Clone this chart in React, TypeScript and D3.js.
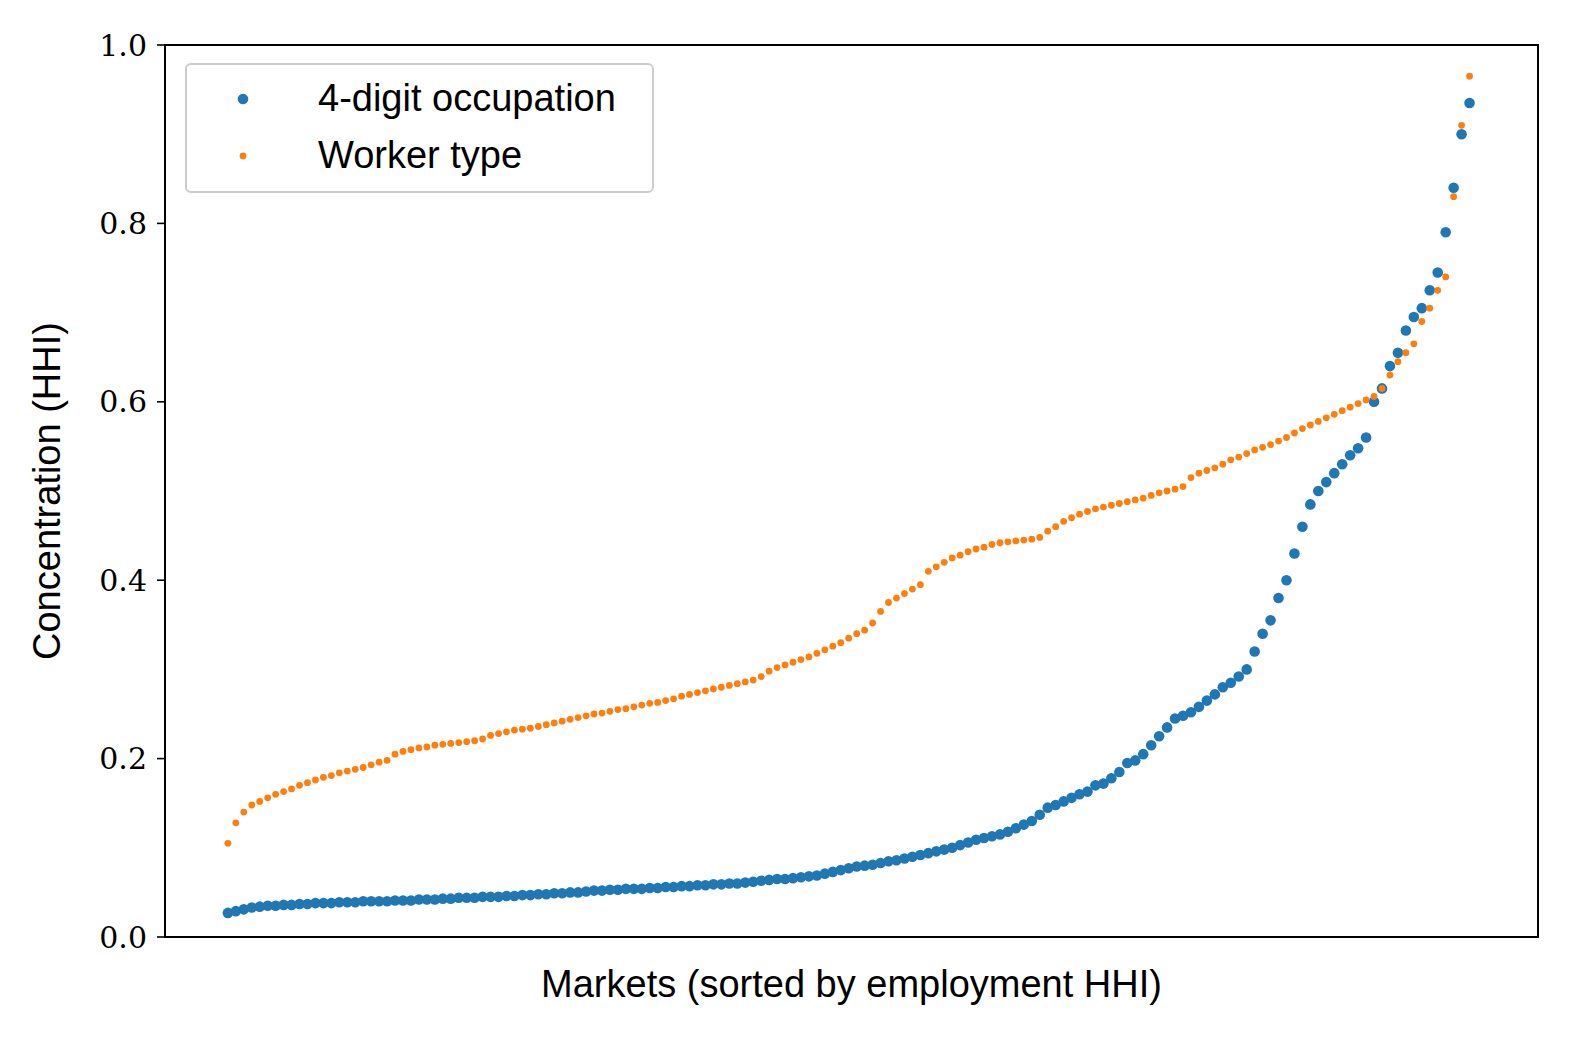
import React from "react"
import * as d3 from "d3"

const occupation = [
  .027,.029,.031,.033,.034,.035,.035,.036,.036,.037,
  .037,.038,.038,.038,.039,.039,.039,.040,.040,.040,
  .040,.041,.041,.041,.042,.042,.042,.043,.043,.044,
  .044,.044,.045,.045,.045,.046,.046,.047,.047,.048,
  .048,.049,.049,.050,.050,.051,.052,.052,.053,.053,
  .054,.054,.054,.055,.055,.056,.056,.057,.057,.058,
  .058,.059,.059,.060,.060,.061,.062,.063,.064,.065,
  .065,.066,.067,.068,.069,.071,.073,.075,.077,.079,
  .080,.081,.083,.085,.086,.088,.090,.092,.094,.096,
  .098,.100,.103,.106,.109,.111,.113,.115,.118,.122,
  .126,.130,.137,.145,.148,.152,.156,.160,.163,.170,
  .172,.178,.185,.195,.198,.205,.215,.225,.235,.245,
  .248,.252,.258,.265,.272,.280,.285,.292,.300,.320,
  .340,.355,.380,.400,.430,.460,.485,.500,.510,.520,
  .530,.540,.548,.560,.600,.615,.640,.655,.680,.695,
  .705,.725,.745,.790,.840,.900,.935,
]

const workerType = [
  .105,.128,.140,.148,.152,.156,.160,.163,.166,.170,
  .173,.176,.179,.181,.184,.186,.188,.190,.193,.196,
  .198,.205,.208,.210,.212,.213,.215,.216,.217,.218,
  .219,.220,.222,.226,.228,.230,.232,.233,.234,.236,
  .238,.240,.242,.244,.246,.248,.250,.251,.253,.255,
  .256,.258,.260,.262,.263,.265,.267,.270,.272,.274,
  .276,.278,.280,.282,.284,.286,.288,.292,.298,.302,
  .305,.308,.311,.314,.318,.322,.326,.330,.335,.340,
  .344,.352,.365,.375,.380,.385,.390,.395,.410,.415,
  .420,.425,.428,.432,.435,.437,.440,.442,.443,.444,
  .445,.446,.448,.455,.460,.466,.470,.474,.477,.480,
  .482,.484,.486,.488,.490,.492,.495,.498,.500,.502,
  .505,.515,.520,.523,.526,.530,.535,.538,.542,.546,
  .549,.552,.556,.560,.565,.570,.574,.578,.582,.586,
  .590,.594,.598,.602,.606,.615,.630,.645,.655,.665,
  .690,.705,.725,.740,.830,.910,.965,
]

const yTicks = [0, 0.2, 0.4, 0.6, 0.8, 1.0]
const legendLabels = ["4-digit occupation", "Worker type"]

const W = 1593, H = 1051
const margin = { left: 165, right: 55, top: 45, bottom: 114 }
const blue = "#1f77b4", orange = "#ff7f0e"
const serif = "'DejaVu Serif', 'Liberation Serif', serif"
const sans = "'Liberation Sans', Arial, sans-serif"

export default function App() {
  const x = d3.scaleLinear().domain([-7.9, occupation.length + 7.6]).range([margin.left, W - margin.right])
  const y = d3.scaleLinear().domain([0, 1]).range([H - margin.bottom, margin.top])
  const x0 = margin.left, x1 = W - margin.right, y0 = y(0), y1 = y(1)

  return (
    <svg width={W} height={H} style={{ position: "absolute", left: 0, top: 0, background: "#fff" }}>
      {occupation.map((v, i) => <circle key={"b" + i} cx={x(i)} cy={y(v)} r={5.3} fill={blue} />)}
      {workerType.map((v, i) => <circle key={"o" + i} cx={x(i)} cy={y(v)} r={3.4} fill={orange} />)}
      <rect x={x0} y={y1} width={x1 - x0} height={y0 - y1} fill="none" stroke="#000" strokeWidth={2} />
      {yTicks.map(t => (
        <g key={t}>
          <line x1={x0 - 8} x2={x0} y1={y(t)} y2={y(t)} stroke="#000" strokeWidth={1.6} />
          <text x={x0 - 18} y={y(t)} dy="0.35em" textAnchor="end" fontFamily={serif} fontSize={30}>{t.toFixed(1)}</text>
        </g>
      ))}
      <text x={(x0 + x1) / 2} y={997} textAnchor="middle" fontFamily={sans} fontSize={38}>Markets (sorted by employment HHI)</text>
      <text transform={`translate(60,${(y0 + y1) / 2}) rotate(-90)`} textAnchor="middle" fontFamily={sans} fontSize={38}>Concentration (HHI)</text>
      <rect x={186} y={64} width={467} height={128} rx={5} fill="#fff" fillOpacity={0.85} stroke="#ccc" strokeWidth={2} />
      <circle cx={243} cy={99} r={5.3} fill={blue} />
      <circle cx={243} cy={156} r={3.4} fill={orange} />
      {legendLabels.map((l, i) => (
        <text key={l} x={318} y={98 + i * 57} dy="0.35em" fontFamily={sans} fontSize={38}>{l}</text>
      ))}
    </svg>
  )
}
